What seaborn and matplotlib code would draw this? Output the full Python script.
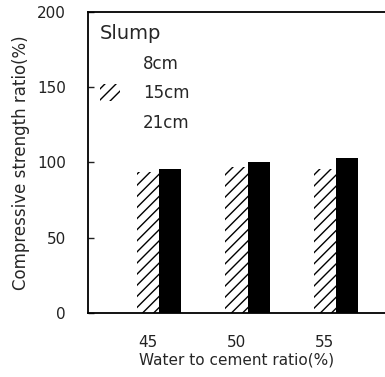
import pandas as pd
import matplotlib.pyplot as plt
import seaborn as sns
from matplotlib.patches import Patch

sns.set_style("ticks")
plt.rcParams['font.family'] = ['DejaVu Sans']
plt.rcParams['hatch.linewidth'] = 1.0

wc_ratio = ['45', '50', '55']
slump = ['8cm', '15cm', '21cm']
s8 = [100, 99, 100]
s15 = [94, 97, 96]
s21 = [95.5, 100, 103]

df = pd.DataFrame({
    'wc': wc_ratio * 3,
    'slump': [s for s in slump for _ in wc_ratio],
    'ratio': s8 + s15 + s21,
})

fig = plt.figure(figsize=(3.85, 3.77), dpi=100)
ax = fig.add_axes([0.2286, 0.170, 0.7714, 0.798])
sns.barplot(data=df, x='wc', y='ratio', hue='slump', hue_order=slump,
            order=wc_ratio, width=0.75, legend=False, ax=ax,
            palette=['white', 'white', 'black'], saturation=1)

styles = [dict(fc='white', ec='white', hatch=None),
          dict(fc='white', ec='black', hatch='///'),
          dict(fc='black', ec='black', hatch=None)]
for cont, st in zip(ax.containers, styles):
    for bar in cont:
        bar.set_facecolor(st['fc'])
        bar.set_edgecolor(st['ec'])
        bar.set_linewidth(0)
        if st['hatch']:
            bar.set_hatch(st['hatch'])

ax.set_ylim(0, 200)
ax.set_xlim(-0.68, 2.68)
ax.set_yticks([0, 50, 100, 150, 200])
ax.tick_params(axis='y', direction='in', length=4, width=1, pad=16, labelsize=11, colors='#222222')
ax.tick_params(axis='x', length=0, pad=16, labelsize=11, colors='#222222')
ax.set_xlabel('Water to cement ratio(%)', fontsize=11, labelpad=2)
ax.set_ylabel('Compressive strength ratio(%)', fontsize=12, labelpad=5)
for s in ['left', 'bottom', 'top']:
    ax.spines[s].set_linewidth(1.3)
    ax.spines[s].set_color('black')
ax.spines['right'].set_visible(False)

handles = [Patch(fc='white', ec='white', lw=0),
           Patch(fc='white', ec='black', lw=0, hatch='///'),
           Patch(fc='white', ec='white', lw=0)]
leg = ax.legend(handles, slump, title='Slump', frameon=False, loc='upper left',
                bbox_to_anchor=(0.0, 1.0), fontsize=12, title_fontsize=14,
                labelspacing=0.7, handlelength=1.2, handleheight=1.2,
                handletextpad=1.4, borderaxespad=0.3)
leg._legend_box.align = 'left'

fig.savefig('out.png', dpi=100)
